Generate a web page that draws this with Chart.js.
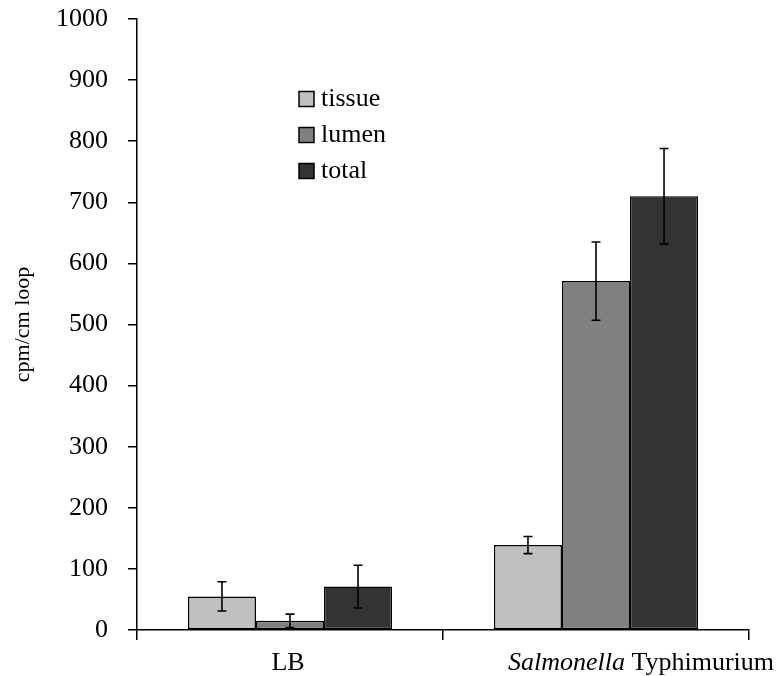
<!DOCTYPE html>
<html>
<head>
<meta charset="utf-8">
<script src="https://cdn.jsdelivr.net/npm/chart.js@4/dist/chart.umd.min.js"></script>
<style>
  html, body { margin: 0; padding: 0; background: #fff; }
  #wrap { width: 784px; height: 676px; }
</style>
</head>
<body>
<div id="wrap"><canvas id="c" width="784" height="676"></canvas></div>
<script>
const categories = ['LB', 'Salmonella Typhimurium'];
const seriesNames = ['tissue', 'lumen', 'total'];
const tissue = [55, 139];
const tissueErr = [24, 14];
const lumen = [15, 571];
const lumenErr = [11, 64];
const total = [71, 710];
const totalErr = [35, 78];
const yTicks = [0, 100, 200, 300, 400, 500, 600, 700, 800, 900, 1000];

const colors = ['#c0c0c0', '#808080', '#333333'];
const values = [tissue, lumen, total];
const errors = [tissueErr, lumenErr, totalErr];
const FONT = '"Liberation Serif", "Times New Roman", serif';
const FS = 26;

Chart.defaults.font.family = FONT;
Chart.defaults.color = '#000';

const errorBars = {
  id: 'errorBars',
  afterDatasetsDraw(chart) {
    const ctx = chart.ctx;
    const y = chart.scales.y;
    ctx.save();
    ctx.strokeStyle = '#000';
    ctx.lineWidth = 1.6;
    chart.data.datasets.forEach((ds, di) => {
      const meta = chart.getDatasetMeta(di);
      meta.data.forEach((bar, i) => {
        const v = ds.data[i], e = errors[di][i];
        const x = bar.x;
        const yt = y.getPixelForValue(v + e);
        const yb = y.getPixelForValue(v - e);
        ctx.beginPath();
        ctx.moveTo(x, yt); ctx.lineTo(x, yb);
        ctx.moveTo(x - 4.5, yt); ctx.lineTo(x + 4.5, yt);
        ctx.moveTo(x - 4.5, yb); ctx.lineTo(x + 4.5, yb);
        ctx.stroke();
      });
    });
    ctx.restore();
  }
};

const customText = {
  id: 'customText',
  afterDraw(chart) {
    const ctx = chart.ctx;
    const xs = chart.scales.x;
    const area = chart.chartArea;
    ctx.save();
    ctx.fillStyle = '#000';
    ctx.textBaseline = 'middle';
    const ly = area.bottom + 33;
    categories.forEach((cat, i) => {
      const cx = xs.getPixelForValue(i);
      if (cat.startsWith('Salmonella')) {
        const a = 'Salmonella', b = cat.slice('Salmonella'.length);
        ctx.font = 'italic ' + FS + 'px ' + FONT;
        const wa = ctx.measureText(a).width;
        ctx.font = FS + 'px ' + FONT;
        const wb = ctx.measureText(b).width;
        const shift = 45;
        const x0 = cx + shift - (wa + wb) / 2;
        ctx.textAlign = 'left';
        ctx.font = 'italic ' + FS + 'px ' + FONT;
        ctx.fillText(a, x0, ly);
        ctx.font = FS + 'px ' + FONT;
        ctx.fillText(b, x0 + wa, ly);
      } else {
        ctx.font = FS + 'px ' + FONT;
        ctx.textAlign = 'center';
        ctx.fillText(cat, cx - 2, ly);
      }
    });
    const lx = area.left + 162, ly0 = area.top + 80, step = 36, bs = 15;
    ctx.textAlign = 'left';
    ctx.font = FS + 'px ' + FONT;
    seriesNames.forEach((name, i) => {
      const yy = ly0 + i * step;
      ctx.fillStyle = colors[i];
      ctx.fillRect(lx, yy - bs / 2, bs, bs);
      ctx.strokeStyle = '#000';
      ctx.lineWidth = 1.5;
      ctx.strokeRect(lx, yy - bs / 2, bs, bs);
      ctx.fillStyle = '#000';
      ctx.fillText(name, lx + bs + 7, yy);
    });
    ctx.restore();
  }
};

new Chart(document.getElementById('c'), {
  type: 'bar',
  data: {
    labels: categories,
    datasets: seriesNames.map((n, i) => ({
      label: n,
      data: values[i],
      backgroundColor: colors[i],
      borderColor: '#000',
      borderWidth: 1.5,
      borderSkipped: false,
      categoryPercentage: 0.667,
      barPercentage: 1.0
    }))
  },
  options: {
    responsive: false,
    devicePixelRatio: 1,
    animation: false,
    layout: { padding: { top: 19, right: 35, left: 0, bottom: 0 } },
    plugins: { legend: { display: false }, tooltip: { enabled: false } },
    scales: {
      x: {
        offset: true,
        grid: {
          offset: true,
          drawOnChartArea: false,
          drawTicks: true,
          tickLength: 10,
          lineWidth: 1.5,
          color: (c) => (c.index === categories.length ? 'rgba(0,0,0,0)' : '#000')
        },
        border: { display: true, color: '#000', width: 1.5 },
        ticks: { display: false },
        afterFit(s) { s.height = 46; s.paddingLeft = 0; s.paddingRight = 0; }
      },
      y: {
        min: 0,
        max: 1000,
        afterBuildTicks(s) { s.ticks = yTicks.map(v => ({ value: v })); },
        grid: {
          drawOnChartArea: false,
          drawTicks: true,
          tickLength: 9,
          lineWidth: 1.5,
          color: '#000'
        },
        border: { display: true, color: '#000', width: 1.5 },
        ticks: {
          font: { size: FS, family: FONT },
          color: '#000',
          padding: 20,
          callback: (v) => String(v)
        },
        title: {
          display: true,
          text: 'cpm/cm loop',
          font: { size: 22, family: FONT },
          color: '#000',
          padding: { top: 10, bottom: 0 }
        },
        afterFit(s) { s.width = 137; s.paddingTop = 0; s.paddingBottom = 0; }
      }
    }
  },
  plugins: [errorBars, customText]
});
</script>
</body>
</html>
